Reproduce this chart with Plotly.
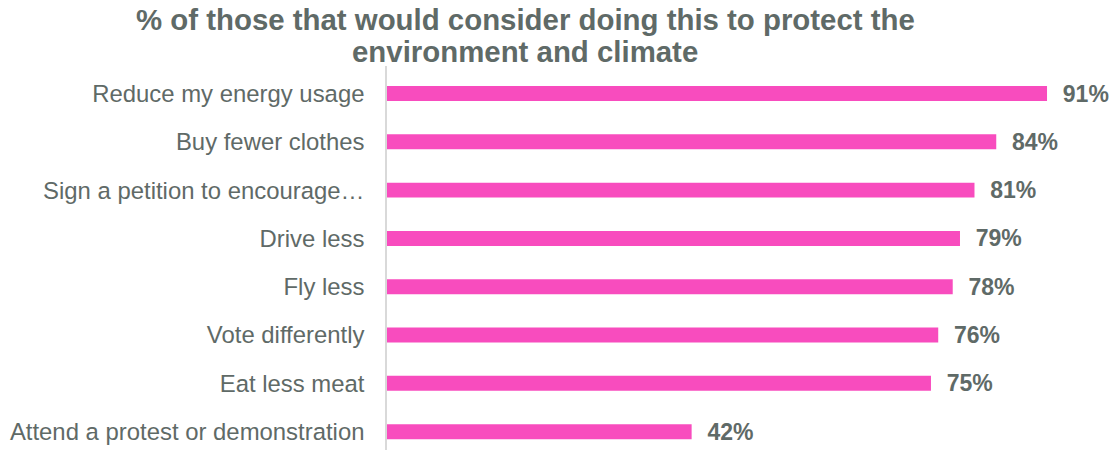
import plotly.graph_objects as go

categories = [
    "Reduce my energy usage",
    "Buy fewer clothes",
    "Sign a petition to encourage…",
    "Drive less",
    "Fly less",
    "Vote differently",
    "Eat less meat",
    "Attend a protest or demonstration",
]
values = [91, 84, 81, 79, 78, 76, 75, 42]
title_lines = [
    "% of those that would consider doing this to protect the",
    "environment and climate",
]

PINK = "#F84CBE"
GREY = "#5F6A67"
FONT = "Liberation Sans, Arial, sans-serif"

W, H = 1110, 450
L, T, R, B = 387, 66, 0, 0
plot_h = H - T - B

fig = go.Figure(
    go.Bar(
        x=values,
        y=categories,
        orientation="h",
        marker=dict(color=PINK, line=dict(width=0)),
        texttemplate="\u00a0\u00a0%{x}%",
        textposition="outside",
        constraintext="none",
        cliponaxis=False,
        textfont=dict(family=FONT, size=23, color=GREY, weight="bold"),
        hoverinfo="skip",
    )
)

def py(ypix):
    return (H - B - ypix) / plot_h

annotations = []
for line, ypix in zip(title_lines, [20, 51]):
    annotations.append(
        dict(
            text=f"<b>{line}</b>",
            x=(525 - L) / (W - L - R),
            y=py(ypix),
            xref="paper",
            yref="paper",
            xanchor="center",
            yanchor="middle",
            showarrow=False,
            font=dict(family=FONT, size=29.4, color=GREY),
        )
    )

fig.update_layout(
    width=W,
    height=H,
    margin=dict(l=L, r=R, t=T, b=B, pad=0),
    paper_bgcolor="white",
    plot_bgcolor="white",
    showlegend=False,
    bargap=0.69,
    annotations=annotations,
    xaxis=dict(
        range=[0, (W - L - R) / 7.253],
        visible=False,
        fixedrange=True,
    ),
    yaxis=dict(
        type="category",
        range=[7.38, -0.57],
        showline=True,
        linecolor="#D9D9D9",
        linewidth=1.5,
        showgrid=False,
        zeroline=False,
        ticks="",
        ticklabelstandoff=16,
        tickfont=dict(family=FONT, size=23.9, color=GREY),
        fixedrange=True,
    ),
)

fig.write_html("out.html")
